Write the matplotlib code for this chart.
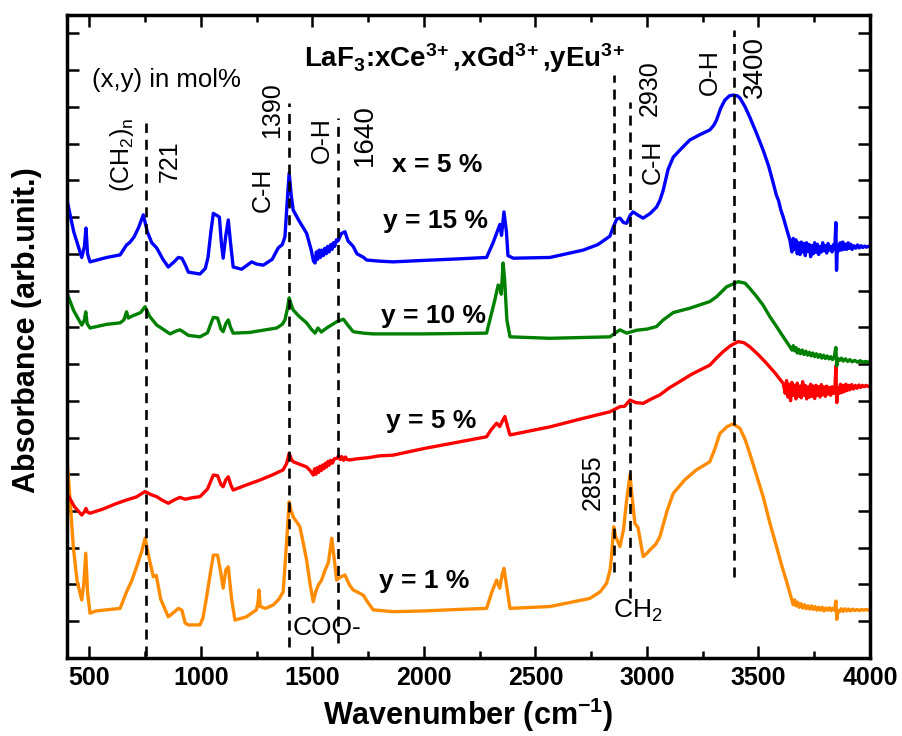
import matplotlib
matplotlib.use('Agg')
import matplotlib.pyplot as plt
from matplotlib.ticker import MultipleLocator, NullFormatter

plt.rcParams['font.family'] = ['Liberation Sans', 'DejaVu Sans']
plt.rcParams['mathtext.default'] = 'regular'

# FTIR spectra, LaF3:xCe,xGd,yEu (x = 5 %), offset stacked
blue_wn = [400, 430, 466, 478, 485, 492, 503, 578, 638, 667, 680, 700, 720, 742, 760, 780, 802, 830, 854, 880,
           899, 915, 930, 944, 996, 1020, 1032, 1045, 1056, 1070, 1083, 1092, 1100, 1112, 1123, 1133, 1145, 1183,
           1210, 1228, 1250, 1280, 1320, 1347, 1365, 1377, 1388, 1396, 1405, 1414, 1440, 1474, 1495, 1505, 1512,
           1518, 1524, 1530, 1536, 1542, 1549, 1556, 1562, 1568, 1575, 1582, 1588, 1594, 1600, 1608, 1615, 1630,
           1646, 1660, 1683, 1700, 1715, 1730, 1743, 1800, 1861, 2000,
           2150, 2281, 2310, 2326, 2341, 2348, 2359, 2370, 2377, 2401, 2565, 2714, 2780, 2834, 2849, 2865, 2879,
           2895, 2909, 2925, 2938, 2960, 2983, 3015, 3043, 3058, 3073, 3095, 3118, 3160, 3193, 3240, 3282, 3300,
           3312, 3330, 3349, 3370, 3387, 3405, 3417, 3440, 3461, 3490, 3521, 3545, 3566, 3580, 3590, 3600, 3611,
           3625, 3641, 3650, 3656, 3662, 3668, 3674, 3680, 3686, 3692, 3698, 3704, 3710, 3716, 3722, 3728, 3734,
           3740, 3746, 3752, 3758, 3764, 3770, 3776, 3782, 3788, 3794, 3800, 3806, 3812, 3818, 3824, 3830, 3836,
           3842, 3847, 3850, 3854, 3860, 3866, 3872, 3878, 3884, 3890, 3896, 3902, 3908, 3914, 3920, 3928, 3936,
           3944, 3952, 3960, 3968, 3976, 3984, 3992, 4000]
blue_abs = [12.46, 11.6, 10.9, 11.2, 11.7, 11.0, 10.78, 10.9, 10.97, 11.24, 11.3, 11.45, 11.7, 12.06, 11.6, 11.3,
            11.16, 10.85, 10.64, 10.78, 10.9, 10.88, 10.7, 10.5, 10.45, 10.6, 10.9, 11.6, 12.1, 12.05, 12.0, 11.3,
            10.88, 11.5, 11.92, 11.3, 10.64, 10.58, 10.7, 10.78, 10.72, 10.69, 10.85, 11.16, 11.25, 11.46, 12.5,
            13.2, 12.6, 12.19, 11.9, 11.56, 11.1, 10.8, 10.75, 11.05, 10.85, 11.1, 10.9, 11.1, 10.95, 11.15, 11.0,
            11.2, 11.05, 11.25, 11.12, 11.3, 11.2, 11.38, 11.35, 11.55, 11.6,
            11.35, 11.2, 11.0, 10.95, 10.9, 10.83, 10.8, 10.78, 10.82, 10.86, 10.9, 11.3, 11.56, 11.8, 11.5, 12.14,
            11.6, 10.95, 10.88, 10.9, 11.1, 11.25, 11.48, 11.73, 11.95, 11.97, 11.85, 11.83, 12.05, 12.14, 12.05,
            11.97, 12.1, 12.27, 12.45, 12.73, 13.3, 13.63, 13.9, 14.1, 14.25, 14.37, 14.5, 14.64, 14.95, 15.18,
            15.3, 15.32, 15.3, 15.24, 15.0, 14.72, 14.3, 13.82, 13.4, 12.93, 12.6, 12.45, 12.2, 12.0, 11.7, 11.37,
            11.05, 11.42, 11.12, 11.38, 11.0, 11.3, 10.98, 11.32, 11.05, 11.28, 10.95, 11.3, 11.06, 11.25, 10.92,
            11.22, 11.0, 11.3, 11.04, 11.26, 10.98, 11.2, 11.05, 11.3, 11.08, 11.22, 11.02, 11.28, 11.1, 11.2, 11.05,
            11.25, 11.12, 11.85, 10.55, 11.2, 11.08, 11.3, 11.1, 11.32, 11.12, 11.26, 11.12, 11.3, 11.15, 11.26,
            11.12, 11.22, 11.15, 11.24, 11.16, 11.22, 11.17, 11.21, 11.18, 11.2, 11.2]

green_wn = [400, 430, 466, 478, 484, 490, 503, 578, 638, 655, 667, 675, 690, 710, 730, 750, 770, 802, 830, 862,
            890, 906, 920, 944, 996, 1030, 1045, 1056, 1075, 1090, 1100, 1112, 1123, 1133, 1145, 1219, 1280, 1340,
            1365, 1377, 1388, 1396, 1405, 1414, 1440, 1474, 1495, 1512, 1525, 1540, 1564, 1590, 1609, 1639, 1660,
            1683, 1730, 1773, 2000, 2281, 2300, 2318, 2333, 2341, 2347, 2355, 2362, 2372, 2386, 2565, 2834, 2879,
            2909, 2954, 3000, 3043, 3073, 3118, 3193, 3282, 3312, 3357, 3409, 3440, 3461, 3490, 3521, 3550, 3581,
            3610, 3641, 3650, 3656, 3662, 3668, 3674, 3680, 3688, 3696, 3704, 3712, 3720, 3728, 3736, 3744, 3752,
            3760, 3768, 3776, 3784, 3792, 3800, 3808, 3816, 3824, 3832, 3840, 3847, 3851, 3856, 3864, 3872, 3880,
            3890, 3900, 3910, 3920, 3932, 3944, 3956, 3968, 3980, 3992, 4000]
green_abs = [9.93, 9.45, 9.06, 9.2, 9.42, 9.1, 8.98, 9.08, 9.12, 9.2, 9.42, 9.25, 9.3, 9.35, 9.4, 9.56, 9.3, 9.06,
             8.95, 8.82, 8.9, 8.93, 8.88, 8.78, 8.74, 8.85, 9.1, 9.27, 9.25, 8.95, 8.88, 9.1, 9.2, 9.0, 8.84, 8.86,
             8.92, 8.98, 9.08, 9.2, 9.5, 9.8, 9.62, 9.47, 9.3, 9.12, 8.95, 8.84, 8.98, 8.87, 8.98, 9.08, 9.15, 9.22,
             9.05, 8.88, 8.84, 8.82, 8.82, 8.84, 9.3, 9.74, 10.15, 10.1, 9.9, 10.75, 10.3, 9.2, 8.74, 8.7, 8.74,
             8.93, 8.84, 8.92, 8.95, 9.02, 9.2, 9.4, 9.52, 9.7, 9.83, 10.1, 10.24, 10.2, 10.06, 9.85, 9.6, 9.3, 9.02,
             8.75, 8.47, 8.38, 8.5, 8.36, 8.45, 8.3, 8.4, 8.28, 8.38, 8.26, 8.35, 8.24, 8.32, 8.22, 8.3, 8.2, 8.28,
             8.18, 8.26, 8.16, 8.24, 8.15, 8.22, 8.14, 8.2, 8.12, 8.2, 8.45, 7.95, 8.15, 8.1, 8.16, 8.08, 8.14, 8.07,
             8.12, 8.06, 8.1, 8.05, 8.09, 8.05, 8.07, 8.05, 8.06]

red_wn = [400, 433, 466, 478, 485, 492, 503, 560, 620, 667, 710, 750, 775, 802, 825, 854, 880, 906, 930, 960, 996,
          1030, 1056, 1075, 1090, 1100, 1112, 1123, 1135, 1145, 1200, 1264, 1320, 1369, 1385, 1396, 1405, 1414,
          1440, 1474, 1490, 1504, 1510, 1516, 1522, 1528, 1534, 1540, 1546, 1552, 1558, 1564, 1570, 1576, 1582,
          1590, 1598, 1609, 1618, 1625, 1632, 1640, 1648, 1655, 1668, 1700, 1750,
          1800, 1862, 2000, 2150, 2281, 2300, 2326, 2340, 2352, 2363, 2375, 2386, 2565, 2700, 2834, 2879, 2900,
          2924, 2950, 2983, 3020, 3058, 3100, 3133, 3200, 3282, 3310, 3342, 3375, 3409, 3435, 3461, 3500, 3536,
          3575, 3611, 3620, 3626, 3632, 3638, 3644, 3650, 3656, 3662, 3668, 3674, 3680, 3686, 3692, 3698, 3704,
          3710, 3716, 3722, 3728, 3734, 3740, 3746, 3752, 3758, 3764, 3770, 3776, 3782, 3788, 3794, 3800, 3806,
          3812, 3818, 3824, 3830, 3836, 3843, 3847, 3851, 3856, 3862, 3868, 3874, 3880, 3886, 3892, 3898, 3904,
          3910, 3918, 3926, 3934, 3942, 3950, 3958, 3966, 3974, 3982, 3990, 4000]
red_abs = [4.48, 4.12, 3.89, 3.98, 4.07, 3.97, 3.94, 4.05, 4.2, 4.3, 4.38, 4.53, 4.45, 4.39, 4.3, 4.21, 4.3, 4.37,
           4.32, 4.36, 4.39, 4.6, 4.98, 4.96, 4.72, 4.66, 4.85, 4.93, 4.7, 4.57, 4.7, 4.84, 4.98, 5.12, 5.3, 5.57,
           5.42, 5.34, 5.28, 5.2, 5.1, 4.98, 5.15, 5.0, 5.18, 5.05, 5.22, 5.1, 5.25, 5.15, 5.3, 5.2, 5.35, 5.25,
           5.38, 5.3, 5.42, 5.43, 5.5, 5.4, 5.48, 5.38, 5.47, 5.4, 5.39, 5.42,
           5.45, 5.5, 5.52, 5.7, 5.87, 6.02, 6.2, 6.39, 6.3, 6.45, 6.57, 6.3, 6.07, 6.29, 6.5, 6.7, 6.84, 6.85,
           7.02, 6.95, 6.93, 7.05, 7.16, 7.35, 7.47, 7.72, 7.97, 8.15, 8.34, 8.5, 8.61, 8.58, 8.47, 8.25, 8.02,
           7.75, 7.47, 7.2, 7.55, 7.1, 7.45, 7.0, 7.5, 7.15, 7.42, 7.05, 7.48, 7.12, 7.4, 7.08, 7.52, 7.15, 7.42,
           7.05, 7.38, 7.1, 7.45, 7.12, 7.4, 7.06, 7.42, 7.15, 7.38, 7.1, 7.44, 7.16, 7.38, 7.12, 7.4, 7.18, 7.36,
           7.15, 7.38, 7.2, 7.35, 7.95, 6.95, 7.35, 7.2, 7.45, 7.22, 7.42, 7.25, 7.45, 7.28, 7.42, 7.3, 7.44, 7.32,
           7.42, 7.34, 7.43, 7.36, 7.42, 7.38, 7.42, 7.39, 7.41]

orange_wn = [400, 415, 428, 445, 466, 475, 484, 492, 503, 530, 578, 638, 667, 690, 712, 735, 750, 765, 787, 800,
             820, 854, 880, 899, 915, 930, 944, 996, 1010, 1026, 1045, 1056, 1075, 1090, 1100, 1112, 1123, 1138,
             1153, 1204, 1249, 1256, 1261, 1266, 1290, 1324, 1350, 1369, 1385, 1396, 1405, 1414, 1430, 1444, 1460,
             1474, 1490, 1504, 1515, 1527, 1540, 1557, 1572, 1587, 1598, 1609, 1625, 1646, 1665, 1683, 1700, 1728,
             1750, 1773, 1862, 2000, 2150, 2281, 2305, 2326, 2340, 2352, 2359, 2370, 2386, 2565, 2744, 2790, 2819,
             2835, 2841, 2851, 2860, 2879, 2895, 2909, 2924, 2935, 2946, 2960, 2983, 3000, 3013, 3040, 3058, 3090,
             3118, 3170, 3222, 3282, 3305, 3327, 3360, 3387, 3417, 3440, 3461, 3490, 3521, 3550, 3581, 3605, 3626,
             3648, 3656, 3662, 3668, 3675, 3682, 3690, 3698, 3706, 3714, 3722, 3730, 3738, 3746, 3754, 3762, 3770,
             3778, 3786, 3794, 3802, 3810, 3818, 3826, 3834, 3842, 3847, 3851, 3856, 3864, 3872, 3880, 3888, 3896,
             3904, 3912, 3922, 3932, 3942, 3952, 3962, 3972, 3982, 3992, 4000]
orange_abs = [5.39, 4.2, 3.03, 2.1, 1.58, 2.0, 2.85, 1.8, 1.22, 1.28, 1.31, 1.35, 1.8, 2.1, 2.48, 2.9, 3.26, 2.8,
              2.21, 2.25, 1.6, 1.12, 1.25, 1.35, 1.3, 0.95, 0.9, 0.9, 1.1, 1.67, 2.4, 2.8, 2.8, 2.3, 1.9, 2.4, 2.48,
              1.6, 1.03, 1.12, 1.31, 1.5, 1.85, 1.4, 1.35, 1.44, 1.6, 1.8, 3.2, 4.25, 4.0, 3.84, 3.7, 3.57, 3.1,
              2.67, 2.0, 1.53, 1.8, 1.99, 2.1, 2.39, 2.6, 3.26, 2.7, 2.12, 2.2, 2.26, 2.0, 1.85, 1.8, 1.71, 1.5,
              1.31, 1.26, 1.28, 1.32, 1.35, 1.8, 2.12, 1.9, 2.3, 2.44, 2.0, 1.35, 1.4, 1.62, 1.8, 2.03, 2.4, 2.76,
              3.57, 3.3, 3.03, 3.5, 4.3, 4.98, 4.3, 3.66, 3.55, 2.76, 2.85, 2.94, 3.1, 3.3, 4.0, 4.48, 4.85, 5.12,
              5.34, 5.7, 6.11, 6.3, 6.37, 6.25, 5.95, 5.57, 5.0, 4.39, 3.7, 3.03, 2.5, 2.08, 1.62, 1.45, 1.58, 1.42,
              1.52, 1.38, 1.48, 1.36, 1.45, 1.34, 1.42, 1.33, 1.42, 1.32, 1.4, 1.3, 1.38, 1.3, 1.38, 1.28, 1.36,
              1.3, 1.37, 1.29, 1.35, 1.3, 1.55, 1.05, 1.3, 1.26, 1.34, 1.27, 1.34, 1.28, 1.33, 1.28, 1.33, 1.29,
              1.32, 1.29, 1.32, 1.3, 1.32, 1.3, 1.31]

# dashed marker lines: position, lower and upper end
vline_wn = [753, 1396, 1616, 2852, 2924, 3390]
vline_low = [0.05, 0.3, 0.4, 2.34, 1.63, 2.2]
vline_high = [14.56, 15.1, 14.7, 15.86, 15.13, 17.09]

fig = plt.figure(figsize=(9.02, 7.36), dpi=100)
ax = fig.add_axes([0.0743, 0.106, 0.8902, 0.8737])

lw = 2.4
ax.plot(orange_wn, orange_abs, color='#FF8C00', lw=lw)
ax.plot(red_wn, red_abs, color='#FF0000', lw=lw)
ax.plot(green_wn, green_abs, color='#008000', lw=lw)
ax.plot(blue_wn, blue_abs, color='#0000FF', lw=lw)

ax.vlines(vline_wn, vline_low, vline_high, colors='black', linestyles=(0, (3.8, 2.6)), lw=1.9)

ax.set_xlim(400, 4000)
ax.set_ylim(0, 17.5)
ax.xaxis.set_major_locator(MultipleLocator(500))
ax.xaxis.set_minor_locator(MultipleLocator(250))
ax.yaxis.set_major_locator(MultipleLocator(1))
ax.yaxis.set_major_formatter(NullFormatter())
ax.tick_params(which='both', direction='in', top=True, right=True, width=1.8)
ax.tick_params(which='major', length=8.5, labelsize=18, pad=6)
ax.tick_params(which='minor', length=5)
for lab in ax.get_xticklabels():
    lab.set_fontweight('bold')
for sp in ax.spines.values():
    sp.set_linewidth(2.5)

ax.set_xlabel('Wavenumber (cm$^{-1}$)', fontsize=22, fontweight='bold')
ax.set_ylabel('Absorbance (arb.unit.)', fontsize=22, fontweight='bold')
ax.xaxis.set_label_coords(0.5, -0.058)
ax.yaxis.set_label_coords(-0.031, 0.51)

# annotations
ax.text(2180, 16.08, r'LaF$_3$:xCe$^{3\!+}$,xGd$^{3\!+}$,yEu$^{3\!+}$', fontsize=20, fontweight='bold',
        ha='center', va='baseline')
ax.text(512, 15.54, '(x,y) in mol%', fontsize=18.5, ha='left', va='baseline')

rot_labels = [('(CH$_2$)$_n$', 645, 13.69, 18), ('721', 862, 13.53, 18), ('C-H', 1279, 12.74, 18),
              ('1390', 1319, 14.92, 18), ('O-H', 1543, 14.1, 18), ('1640', 1736, 14.24, 20),
              ('2855', 2758, 4.79, 18), ('C-H', 3027, 13.5, 18), ('2930', 3014, 15.51, 18),
              ('O-H', 3283, 15.95, 18), ('3400', 3484, 16.09, 20)]
for txt, xw, yv, fs in rot_labels:
    ax.text(xw, yv, txt, fontsize=fs, rotation=90, ha='center', va='center')

ax.text(2059, 13.42, 'x = 5 %', fontsize=19, fontweight='bold', ha='center', va='center')
sample_labels = ['y = 15 %', 'y = 10 %', 'y = 5 %', 'y = 1 %']
sample_x = [2050, 2041, 2032, 2000]
sample_y = [11.89, 9.31, 6.45, 2.1]
for txt, xw, yv in zip(sample_labels, sample_x, sample_y):
    ax.text(xw, yv, txt, fontsize=19, fontweight='bold', ha='center', va='center')

ax.text(1566, 0.82, 'COO-', fontsize=19, ha='center', va='center')
ax.text(2848, 1.09, 'CH$_2$', fontsize=19, ha='left', va='baseline')

fig.savefig('out.png', dpi=100)
